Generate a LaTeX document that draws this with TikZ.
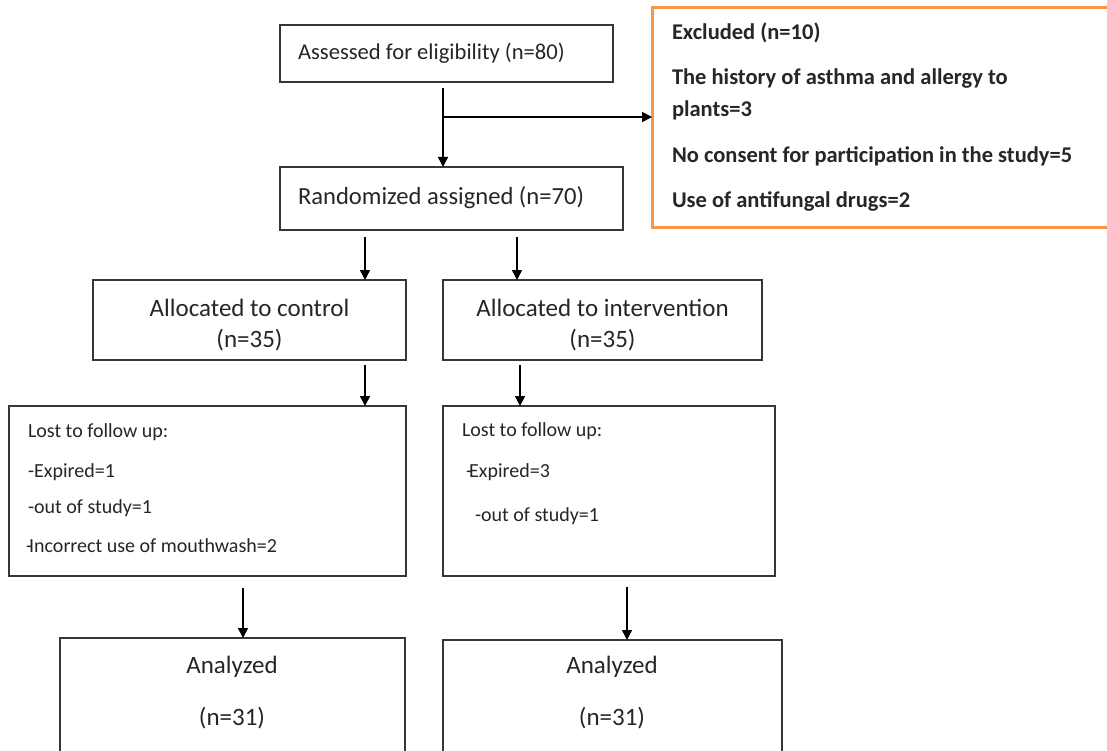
\documentclass[tikz,border=0pt]{standalone}
\usepackage{fontspec}
\setmainfont{Carlito}
\usetikzlibrary{arrows.meta,calc}
\definecolor{boxline}{RGB}{55,55,55}
\definecolor{orangeline}{RGB}{247,150,70}
\begin{document}
\begin{tikzpicture}[x=1pt,y=-1pt,
  box/.style={draw=boxline,line width=1.6pt,rectangle,inner sep=0pt,outer sep=0pt,anchor=north west},
  obox/.style={draw=orangeline,line width=3pt,rectangle,inner sep=0pt,outer sep=0pt,anchor=north west},
  arr/.style={draw=black,line width=1.5pt,-{Triangle[width=10pt,length=10pt]}},
  txt/.style={inner sep=0pt,outer sep=0pt,anchor=base west,text=black!85},
  ctxt/.style={inner sep=0pt,outer sep=0pt,anchor=base,text=black!85},
  fbig/.style={font=\fontsize{25}{31}\selectfont},
  fmid/.style={font=\fontsize{22.6}{27}\selectfont},
  fsmall/.style={font=\fontsize{20}{24}\selectfont},
  fbold/.style={font=\fontsize{22.5}{27}\selectfont\bfseries}]
\clip (0,0) rectangle (1107,751);
\fill[white] (0,0) rectangle (1107,751);

% boxes
\node[box,minimum width=333pt,minimum height=57pt] (assess) at (280,25) {};
\node[box,minimum width=343pt,minimum height=63pt] (rand) at (280,167) {};
\node[obox,minimum width=520pt,minimum height=220pt] (excl) at (652,8) {};
\node[box,minimum width=313pt,minimum height=80pt,align=center,text=black!85,font=\fontsize{25}{31}\selectfont] (ctrl) at (93,280) {\rule{0pt}{27pt}Allocated to control\\(n=35)};
\node[box,minimum width=319pt,minimum height=80pt,align=center,text=black!85,font=\fontsize{25}{31}\selectfont] (intv) at (443,280) {\rule{0pt}{27pt}Allocated to intervention\\(n=35)};
\node[box,minimum width=397pt,minimum height=170pt] (lostc) at (9,406) {};
\node[box,minimum width=332pt,minimum height=170pt] (losti) at (443,406) {};
\node[box,minimum width=345pt,minimum height=150pt] (anac) at (60,638) {};
\node[box,minimum width=339pt,minimum height=150pt] (anai) at (443,640) {};

% texts
\node[txt,fmid] (assesst) at (298,60) {Assessed for eligibility (n=80)};
\node[txt,font=\fontsize{24.6}{29}\selectfont] (randt) at (298,205) {Randomized assigned (n=70)};

\node[txt,fbold] (ex1) at (672,40) {Excluded (n=10)};
\node[txt,fbold] (ex2) at (672,85) {The history of asthma and allergy to};
\node[txt,fbold] (ex3) at (672,117) {plants=3};
\node[txt,fbold] (ex4) at (672,163) {No consent for participation in the study=5};
\node[txt,fbold] (ex5) at (672,208) {Use of antifungal drugs=2};

\node[txt,fsmall] (lc1) at (28,437) {Lost to follow up:};
\node[txt,fsmall] (lc2) at (28,477) {-Expired=1};
\node[txt,fsmall] (lc3) at (28,513) {-out of study=1};
\node[txt,fsmall] (lc4) at (26,552) {-\kern-3pt Incorrect use of mouthwash=2};

\node[txt,fsmall] (li1) at (462,436) {Lost to follow up:};
\node[txt,fsmall] (li2) at (466,477) {-\kern-3pt Expired=3};
\node[txt,fsmall] (li3) at (475,521) {-out of study=1};

\node[ctxt,fbig] (ac1) at (232,673) {Analyzed};
\node[ctxt,fbig] (ac2) at (232,725) {(n=31)};
\node[ctxt,fbig] (ai1) at (612,673) {Analyzed};
\node[ctxt,fbig] (ai2) at (612,725) {(n=31)};

% connectors
\coordinate (j) at (443,117);
\coordinate (xc1) at (365,0);
\coordinate (xi1) at (517,0);
\coordinate (xi2) at (520,0);
\coordinate (xc3) at (243,0);
\coordinate (xi3) at (627,0);
\draw[arr] ($(assess.south -| j)+(0,6)$) -- (rand.north -| j);
\draw[arr] (j) -- (excl.west |- j);
\draw[arr] ($(rand.south -| xc1)+(0,7)$) -- (ctrl.north -| xc1);
\draw[arr] ($(rand.south -| xi1)+(0,7)$) -- (intv.north -| xi1);
\draw[arr] ($(ctrl.south -| xc1)+(0,5)$) -- (lostc.north -| xc1);
\draw[arr] ($(intv.south -| xi2)+(0,5)$) -- (losti.north -| xi2);
\draw[arr] ($(lostc.south -| xc3)+(0,12)$) -- (anac.north -| xc3);
\draw[arr] ($(losti.south -| xi3)+(0,11)$) -- (anai.north -| xi3);
\end{tikzpicture}
\end{document}
